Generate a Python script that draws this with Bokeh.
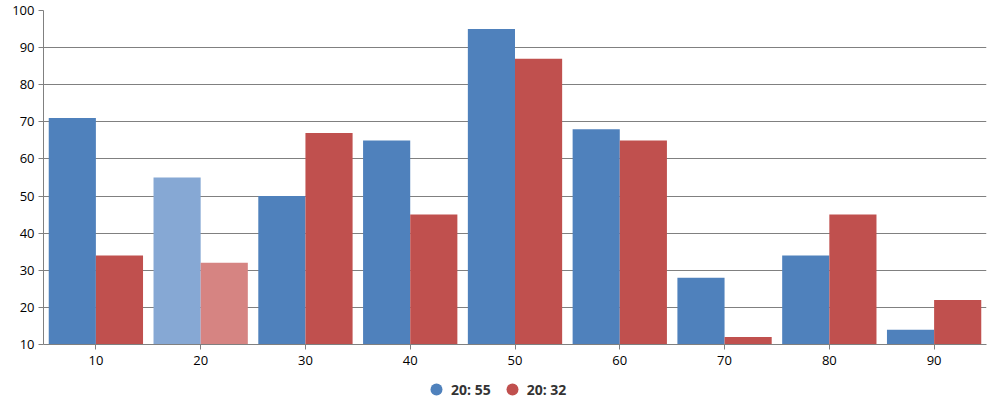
from bokeh.plotting import figure
from bokeh.layouts import column
from bokeh.models import ColumnDataSource, Range1d, FixedTicker, Legend, LegendItem
from bokeh.transform import dodge
from bokeh.embed import file_html
from bokeh.resources import INLINE

categories = [10, 20, 30, 40, 50, 60, 70, 80, 90]
series_a = [71, 55, 50, 65, 95, 68, 28, 34, 14]
series_b = [34, 32, 67, 45, 87, 65, 12, 45, 22]
legend_labels = ["20: 55", "20: 32"]
y_ticks = [10, 20, 30, 40, 50, 60, 70, 80, 90, 100]

blue, red = "#4F81BC", "#C0504E"
blue_hi, red_hi = "#86A8D4", "#D68482"
highlight = 20

src = ColumnDataSource(dict(
    x=categories, a=series_a, b=series_b,
    ca=[blue_hi if c == highlight else blue for c in categories],
    cb=[red_hi if c == highlight else red for c in categories],
))

p = figure(width=1000, height=374, output_backend="svg", toolbar_location=None,
           x_range=Range1d(5, 95), y_range=Range1d(10, 100),
           min_border_left=43, min_border_right=14, min_border_top=10, min_border_bottom=30)
p.outline_line_color = None
p.background_fill_color = "white"

p.vbar(x=dodge("x", -2.25, range=p.x_range), top="a", bottom=10, width=4.5,
       source=src, fill_color="ca", line_color=None)
p.vbar(x=dodge("x", 2.25, range=p.x_range), top="b", bottom=10, width=4.5,
       source=src, fill_color="cb", line_color=None)

font = "Open Sans"
for ax in (p.xaxis[0], p.yaxis[0]):
    ax.axis_line_color = "#808080"
    ax.major_tick_line_color = "#808080"
    ax.major_tick_out = 5
    ax.major_tick_in = 0
    ax.minor_tick_line_color = None
    ax.major_label_text_font = font
    ax.major_label_text_font_size = "13px"
    ax.major_label_text_color = "#000000"
p.xaxis[0].ticker = FixedTicker(ticks=categories)
p.yaxis[0].ticker = FixedTicker(ticks=y_ticks)
p.xaxis[0].major_label_standoff = 6
p.yaxis[0].major_label_standoff = 4

p.xgrid.grid_line_color = None
p.ygrid.grid_line_color = "#808080"
p.ygrid.grid_line_width = 1
p.ygrid.ticker = FixedTicker(ticks=y_ticks)

# legend strip below the chart
lg = figure(width=1000, height=30, output_backend="svg", toolbar_location=None,
            x_range=Range1d(0, 1), y_range=Range1d(0, 1),
            x_axis_location=None, y_axis_location=None,
            min_border_left=0, min_border_right=0, min_border_top=0, min_border_bottom=0)
lg.outline_line_color = None
lg.xgrid.grid_line_color = None
lg.ygrid.grid_line_color = None

# off-range dummy points, only used to draw the legend markers
r1 = lg.scatter(x=[-5], y=[-5], marker="circle", size=13, fill_color=blue, line_color=None)
r2 = lg.scatter(x=[-5], y=[-5], marker="circle", size=13, fill_color=red, line_color=None)
legend = Legend(items=[LegendItem(label=legend_labels[0], renderers=[r1], index=0),
                       LegendItem(label=legend_labels[1], renderers=[r2], index=0)],
                orientation="horizontal", location=(378, 0),
                label_text_font=font, label_text_font_style="bold",
                label_text_font_size="14px", label_text_color="#333333",
                glyph_width=30, glyph_height=30, label_standoff=0, spacing=6,
                label_height=14,
                border_line_color=None, background_fill_alpha=0,
                margin=0, padding=0)
lg.add_layout(legend, "center")

layout = column(p, lg, spacing=0)
open("out.html", "w").write(file_html(layout, INLINE))
